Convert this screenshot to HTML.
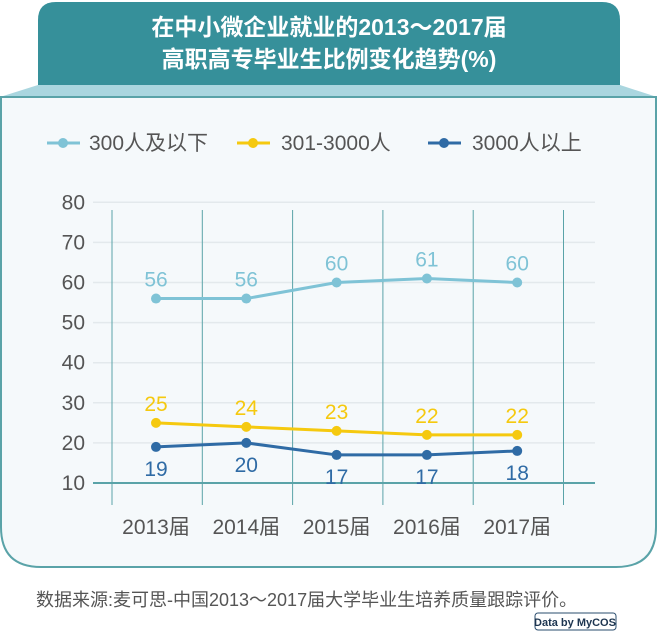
<!DOCTYPE html>
<html><head><meta charset="utf-8"><style>
body{margin:0;width:657px;height:633px;background:#fff;overflow:hidden;font-family:"Liberation Sans","Noto Sans CJK SC",sans-serif;}
</style></head><body>
<svg width="657" height="633" viewBox="0 0 657 633" xmlns="http://www.w3.org/2000/svg" font-family="Liberation Sans, Noto Sans CJK SC, sans-serif">
<path d="M38,85 L38,20 Q38,2 56,2 L602,2 Q620,2 620,20 L620,85 Z" fill="#36909a"/>
<path d="M38,85 L620,85 L657,97 L0,97 Z" fill="#aad6df"/>
<path d="M1,97 L656,97 L656,527 Q656,567 616,567 L41,567 Q1,567 1,527 Z" fill="#f5f9fb" stroke="#5aa3a8" stroke-width="2"/>
<text x="329" y="35" text-anchor="middle" font-size="23" font-weight="bold" fill="#fff">在中小微企业就业的2013～2017届</text>
<text x="329" y="67" text-anchor="middle" font-size="23" font-weight="bold" fill="#fff">高职高专毕业生比例变化趋势(%)</text>
<g font-size="21" fill="#555">
<g><line x1="47" y1="143" x2="80" y2="143" stroke="#7fc3d6" stroke-width="3"/><circle cx="63" cy="143" r="5" fill="#7fc3d6"/><text x="89" y="150">300人及以下</text></g>
<g><line x1="237" y1="143" x2="270" y2="143" stroke="#f5c90f" stroke-width="3"/><circle cx="253" cy="143" r="5" fill="#f5c90f"/><text x="281" y="150">301-3000人</text></g>
<g><line x1="428" y1="143" x2="461" y2="143" stroke="#2f6ba5" stroke-width="3"/><circle cx="444" cy="143" r="5" fill="#2f6ba5"/><text x="472" y="150">3000人以上</text></g>
</g>
<g id="chart"></g>
<text x="36" y="606" font-size="18" fill="#555">数据来源:麦可思-中国2013～2017届大学毕业生培养质量跟踪评价。</text>
<g><rect x="535" y="613" width="81" height="17" rx="3" fill="#fff" stroke="#2a4c6e" stroke-width="1"/><text x="575" y="626" text-anchor="middle" font-size="11" font-weight="bold" fill="#1d3550">Data by MyCOS</text></g>
</svg>
<script>
const categories=["2013届","2014届","2015届","2016届","2017届"];
const smallVals=[56,56,60,61,60];
const mediumVals=[25,24,23,22,22];
const largeVals=[19,20,17,17,18];
const yTicks=[10,20,30,40,50,60,70,80];
const NS="http://www.w3.org/2000/svg";
const g=document.getElementById('chart');
function y(v){return 483-(v-10)*40.1/10;}
function x(i){return 156+i*90.3;}
function mk(t,a,p){const e=document.createElementNS(NS,t);for(const k in a)e.setAttribute(k,a[k]);(p||g).appendChild(e);return e;}
yTicks.forEach(v=>{
 if(v>10){const l=mk('line',{x1:93,x2:595,y1:y(v),y2:y(v),stroke:'#e3e9ec','stroke-width':1.5});
 
 }
 const t=mk('text',{x:85,y:y(v)+7,'text-anchor':'end','font-size':21,fill:'#555'});t.textContent=v;
 
 
});
for(let i=0;i<=categories.length;i++){
 const vx=x(i)-44;
 const l=mk('line',{x1:vx,x2:vx,y1:210,y2:505,stroke:'#5aa3a8','stroke-width':1});
 
 
}
const ax=mk('line',{x1:93,x2:595,y1:483,y2:483,stroke:'#5aa3a8','stroke-width':2});


categories.forEach((c,i)=>{const t=mk('text',{x:x(i),y:534,'text-anchor':'middle','font-size':21,fill:'#555'});t.textContent=c;
 
 });
function series(vals,color,name,dy){
 const s=mk('g',{});
 
 
 const p=mk('polyline',{points:vals.map((v,i)=>x(i)+','+y(v)).join(' '),fill:'none',stroke:color,'stroke-width':3},s);
 
 
 vals.forEach((v,i)=>{
  const c=mk('circle',{cx:x(i),cy:y(v),r:5,fill:color},s);
  
  
  const t=mk('text',{x:x(i),y:y(v)+dy,'text-anchor':'middle','font-size':21,fill:color},s);t.textContent=v;
  
  
 });
}
series(smallVals,'#7fc3d6','series-small',-12);
series(mediumVals,'#f5c90f','series-medium',-12);
series(largeVals,'#2f6ba5','series-large',29);
</script>
</body></html>
